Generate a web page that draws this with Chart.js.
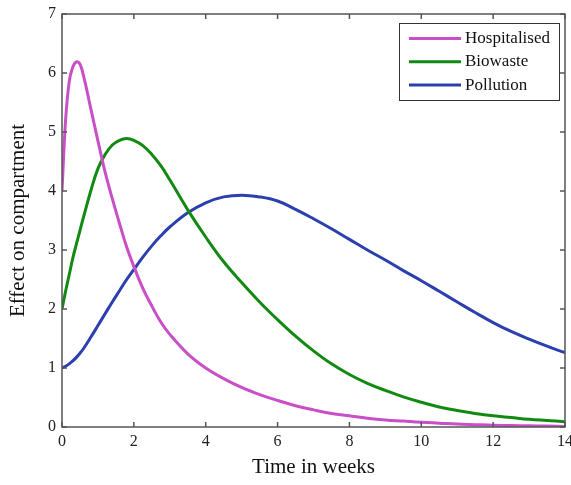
<!DOCTYPE html>
<html>
<head>
<meta charset="utf-8">
<title>Effect on compartment</title>
<script src="https://cdn.jsdelivr.net/npm/chart.js@4.4.1/dist/chart.umd.min.js"></script>
<style>
  body { margin: 0; background: #fff; }
  canvas { display: block; }
</style>
</head>
<body>
<canvas id="chart" width="571" height="485"></canvas>
<script>
// time samples (weeks), denser near the start where the curves peak
const weeks = [0, 0.1, 0.2, 0.3, 0.4, 0.5, 0.6, 0.8, 1.0, 1.2, 1.4, 1.6, 1.8, 2.0, 2.25, 2.5, 2.75, 3.0, 3.5, 4,
    4.5, 5, 5.5, 6, 6.5, 7, 7.5, 8, 8.5, 9, 9.5, 10, 10.5, 11, 11.5, 12, 12.5, 13, 13.5, 14];

const hospitalised = [4.0, 5.2, 5.85, 6.1, 6.19, 6.15, 5.95, 5.4, 4.85, 4.32, 3.87, 3.45, 3.05, 2.72, 2.35, 2.05, 1.78, 1.57, 1.24, 1.0,
    0.82, 0.67, 0.55, 0.45, 0.36, 0.29, 0.23, 0.19, 0.15, 0.12, 0.1, 0.08, 0.065, 0.05, 0.04, 0.03, 0.025, 0.02, 0.015, 0.01];

const biowaste = [2.0, 2.3, 2.58, 2.86, 3.1, 3.33, 3.56, 4.0, 4.38, 4.62, 4.78, 4.86, 4.89, 4.86, 4.77, 4.62, 4.43, 4.19, 3.68, 3.22,
    2.8, 2.45, 2.12, 1.82, 1.54, 1.29, 1.07, 0.89, 0.74, 0.62, 0.51, 0.42, 0.34, 0.28, 0.23, 0.19, 0.16, 0.13, 0.11, 0.09];

const pollution = [1.0, 1.03, 1.07, 1.12, 1.18, 1.25, 1.33, 1.52, 1.72, 1.92, 2.12, 2.31, 2.5, 2.67, 2.88, 3.07, 3.24, 3.39, 3.63, 3.8,
    3.9, 3.93, 3.9, 3.83, 3.69, 3.53, 3.36, 3.18, 3.0, 2.83, 2.65, 2.48, 2.3, 2.12, 1.94, 1.77, 1.62, 1.49, 1.37, 1.26];

const seriesNames = ['Hospitalised', 'Biowaste', 'Pollution'];
const seriesColors = ['#c94fc9', '#128a12', '#2c3fae'];

const xTicks = [0, 2, 4, 6, 8, 10, 12, 14];
const yTicks = [0, 1, 2, 3, 4, 5, 6, 7];

const serif = 'Liberation Serif, Times New Roman, serif';

function toPoints(values) {
    return weeks.map((t, i) => ({ x: t, y: values[i] }));
}

// box frame, inward tick marks on all four sides, and the legend box
const framePlugin = {
    id: 'frame',
    afterDatasetsDraw(chart) {
        const { ctx, chartArea: a, scales } = chart;
        ctx.save();
        ctx.strokeStyle = '#555';
        ctx.lineWidth = 1.5;
        ctx.strokeRect(a.left, a.top, a.right - a.left, a.bottom - a.top);

        const len = 5;
        ctx.beginPath();
        xTicks.forEach(v => {
            const px = scales.x.getPixelForValue(v);
            ctx.moveTo(px, a.bottom); ctx.lineTo(px, a.bottom - len);
            ctx.moveTo(px, a.top); ctx.lineTo(px, a.top + len);
        });
        yTicks.forEach(v => {
            const py = scales.y.getPixelForValue(v);
            ctx.moveTo(a.left, py); ctx.lineTo(a.left + len, py);
            ctx.moveTo(a.right, py); ctx.lineTo(a.right - len, py);
        });
        ctx.stroke();

        // legend
        const bw = 160, bh = 77;
        const bx = a.right - 6 - bw, by = a.top + 9;
        ctx.fillStyle = '#fff';
        ctx.fillRect(bx, by, bw, bh);
        ctx.strokeStyle = '#333';
        ctx.lineWidth = 1;
        ctx.strokeRect(bx + 0.5, by + 0.5, bw, bh);

        ctx.font = '17px ' + serif;
        ctx.textBaseline = 'middle';
        ctx.textAlign = 'left';
        chart.data.datasets.forEach((ds, i) => {
            const ry = by + 15.5 + i * 23.3;
            ctx.strokeStyle = ds.borderColor;
            ctx.lineWidth = 3;
            ctx.beginPath();
            ctx.moveTo(bx + 10, ry);
            ctx.lineTo(bx + 62, ry);
            ctx.stroke();
            ctx.fillStyle = '#111';
            ctx.fillText(ds.label, bx + 66, ry);
        });
        ctx.restore();
    }
};

const ctx = document.getElementById('chart').getContext('2d');
const chart = new Chart(ctx, {
    type: 'line',
    data: {
        datasets: [hospitalised, biowaste, pollution].map((vals, i) => ({
            label: seriesNames[i],
            data: toPoints(vals),
            borderColor: seriesColors[i],
            backgroundColor: seriesColors[i],
            borderWidth: 3,
            pointRadius: 0,
            tension: 0.4,
            fill: false
        }))
    },
    options: {
        responsive: false,
        animation: false,
        devicePixelRatio: 1,
        layout: { padding: { left: 0, top: 14, right: 6, bottom: 0 } },
        plugins: {
            legend: { display: false },
            tooltip: { enabled: false }
        },
        scales: {
            x: {
                type: 'linear',
                min: 0,
                max: 14,
                grid: { display: false, drawTicks: false },
                border: { display: false },
                ticks: {
                    stepSize: 2,
                    padding: 5,
                    color: '#222',
                    font: { family: serif, size: 16 }
                },
                title: {
                    display: true,
                    text: 'Time in weeks',
                    color: '#111',
                    padding: { top: 0, bottom: 5 },
                    font: { family: serif, size: 21 }
                },
                afterFit(scale) {
                    scale.height = 58;
                    scale.paddingLeft = 0;
                    scale.paddingRight = 0;
                }
            },
            y: {
                min: 0,
                max: 7,
                grid: { display: false, drawTicks: false },
                border: { display: false },
                ticks: {
                    stepSize: 1,
                    padding: 6,
                    color: '#222',
                    font: { family: serif, size: 16 }
                },
                title: {
                    display: true,
                    text: 'Effect on compartment',
                    color: '#111',
                    padding: { top: 6, bottom: 0 },
                    font: { family: serif, size: 21 }
                },
                afterFit(scale) {
                    scale.width = 62;
                    scale.paddingTop = 0;
                    scale.paddingBottom = 0;
                }
            }
        }
    },
    plugins: [framePlugin]
});
</script>
</body>
</html>
